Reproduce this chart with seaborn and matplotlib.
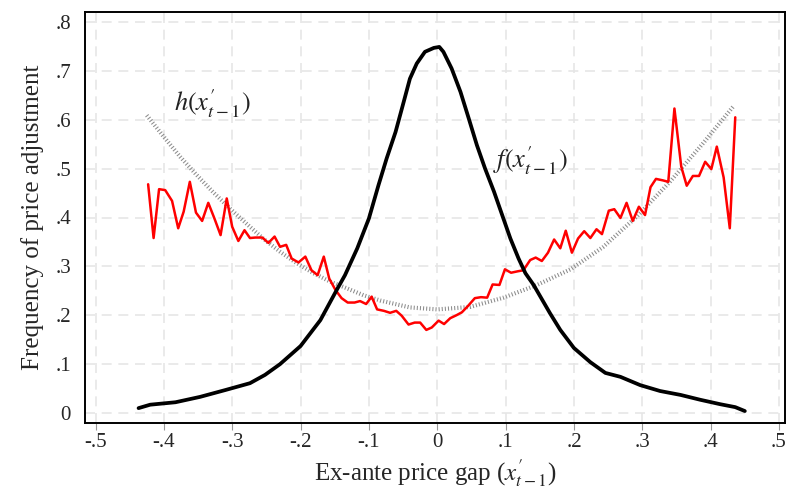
import numpy as np
import pandas as pd
import matplotlib
matplotlib.use("Agg")
import matplotlib.pyplot as plt
import seaborn as sns

# ---- data ----
red_x = [-0.423,-0.415,-0.407,-0.398,-0.388,-0.379,-0.371,-0.362,-0.353,-0.344,-0.335,-0.326,-0.317,-0.308,-0.300,-0.291,-0.282,-0.274,
         -0.266,-0.256,-0.247,-0.238,-0.230,-0.221,-0.213,-0.203,-0.193,-0.184,-0.175,-0.166,-0.158,-0.149,-0.140,-0.131,-0.121,-0.113,-0.104,-0.096,
         -0.088,-0.078,-0.069,-0.060,-0.052,-0.042,-0.033,-0.025,-0.016,-0.008,0.002,0.010,0.019,0.028,0.036,0.045,0.055,0.064,0.073,
         0.081,0.091,0.099,0.108,0.118,0.126,0.136,0.144,0.153,0.162,0.171,0.180,0.188,0.197,0.206,0.215,0.224,0.233,0.241,
         0.251,0.259,0.268,0.277,0.286,0.295,0.304,0.312,0.320,0.330,0.338,0.347,0.357,0.365,0.374,0.383,0.392,0.401,0.409,0.419,0.428,0.436]
red_y = [0.468,0.358,0.458,0.456,0.434,0.378,0.412,0.473,0.410,0.393,0.430,0.398,0.364,0.439,0.381,0.352,0.374,0.358,
         0.359,0.359,0.348,0.361,0.340,0.344,0.316,0.308,0.320,0.292,0.282,0.320,0.275,0.252,0.235,0.226,0.226,0.229,0.223,0.238,
         0.212,0.209,0.205,0.209,0.199,0.181,0.185,0.185,0.170,0.175,0.189,0.182,0.194,0.200,0.206,0.219,0.235,0.237,0.236,
         0.263,0.262,0.294,0.287,0.290,0.292,0.313,0.318,0.311,0.328,0.355,0.337,0.373,0.328,0.357,0.372,0.358,0.376,0.366,
         0.414,0.417,0.399,0.430,0.393,0.422,0.405,0.462,0.479,0.476,0.473,0.623,0.504,0.465,0.485,0.485,0.514,0.499,0.545,0.482,0.378,0.605]

f_x = [-0.437,-0.42,-0.383,-0.347,-0.31,-0.274,-0.252,-0.23,-0.2,-0.171,-0.147,-0.135,-0.117,-0.1,-0.086,-0.074,-0.061,-0.049,
       -0.04,-0.03,-0.018,-0.005,0.003,0.009,0.021,0.034,0.046,0.058,0.07,0.083,0.095,0.107,0.119,0.129,0.141,0.165,0.18,0.2,
       0.224,0.246,0.268,0.297,0.326,0.356,0.385,0.414,0.436,0.45]
f_y = [0.010,0.017,0.022,0.033,0.047,0.061,0.078,0.100,0.137,0.190,0.252,0.282,0.337,0.398,0.466,0.521,0.575,0.637,
       0.684,0.715,0.739,0.747,0.749,0.739,0.705,0.657,0.603,0.548,0.500,0.453,0.405,0.357,0.316,0.286,0.262,0.204,0.170,0.133,
       0.104,0.082,0.074,0.057,0.045,0.037,0.027,0.018,0.012,0.004]

h_x = [-0.425,-0.4,-0.376,-0.352,-0.328,-0.303,-0.278,-0.254,-0.23,-0.205,-0.181,-0.157,-0.132,-0.108,-0.083,-0.04,0.0,
       0.048,0.097,0.146,0.195,0.243,0.292,0.341,0.389,0.433]
h_y = [0.609,0.565,0.524,0.487,0.452,0.418,0.386,0.356,0.330,0.306,0.286,0.269,0.255,0.241,0.230,0.216,0.212,
       0.217,0.236,0.262,0.294,0.340,0.402,0.474,0.552,0.627]

x_ticks = [-0.5,-0.4,-0.3,-0.2,-0.1,0.0,0.1,0.2,0.3,0.4,0.5]
x_ticklabels = ["-.5","-.4","-.3","-.2","-.1","0",".1",".2",".3",".4",".5"]
y_ticks = [0.0,0.1,0.2,0.3,0.4,0.5,0.6,0.7,0.8]
y_ticklabels = ["0",".1",".2",".3",".4",".5",".6",".7",".8"]

sns.set_theme(style="white")
plt.rcParams['font.family'] = ['Liberation Serif', 'DejaVu Serif']
plt.rcParams['mathtext.fontset'] = 'stix'

fig = plt.figure(figsize=(7.88, 4.92), dpi=100)
ax = fig.add_axes([85/788, 1-423/492, 700/788, 411/492])

for xv in x_ticks:
    ax.axvline(xv, color="#e6e6e6", lw=1.2, ls=(0, (6, 4)), zorder=0)
for yv in y_ticks:
    ax.axhline(yv, color="#e6e6e6", lw=1.2, ls=(0, (6, 4)), zorder=0)

red_df = pd.DataFrame({"x": red_x, "y": red_y})
f_df = pd.DataFrame({"x": f_x, "y": f_y})
h_df = pd.DataFrame({"x": h_x, "y": h_y})

sns.lineplot(data=h_df, x="x", y="y", ax=ax, color="#8c8c8c", lw=3.0,
             linestyle=(0, (0.25, 0.5)), estimator=None, zorder=2)
sns.lineplot(data=red_df, x="x", y="y", ax=ax, color="#ff0000", lw=1.8,
             estimator=None, zorder=3)
sns.lineplot(data=f_df, x="x", y="y", ax=ax, color="black", lw=2.7,
             estimator=None, zorder=4, solid_joinstyle="round")

ax.text(-0.329, 0.634, r"$h(x_{t-1}^{\prime})$", fontsize=19, ha="center", va="center", color="#222222")
ax.text(0.136, 0.517, r"$f(x_{t-1}^{\prime})$", fontsize=19, ha="center", va="center", color="#222222")

ax.set_xlim(-0.5 - 10.5/683.5, 0.5 + 6/683.5)
ax.set_ylim(-10/489, 0.8 + 10/489)
ax.set_xticks(x_ticks)
ax.set_xticklabels(x_ticklabels)
ax.set_yticks(y_ticks)
ax.set_yticklabels(y_ticklabels)
ax.tick_params(axis="x", length=5, width=0.8, color="#999999", labelsize=15, pad=2, bottom=True)
ax.tick_params(axis="y", length=0, labelsize=15, pad=10)
for s in ax.spines.values():
    s.set_color("black")
    s.set_linewidth(1.4)
ax.set_xlabel(r"Ex-ante price gap ($x_{t-1}^{\prime}$)", fontsize=18, labelpad=4)
ax.set_ylabel("Frequency of price adjustment", fontsize=18, labelpad=8)

fig.savefig("out.png", dpi=100)
